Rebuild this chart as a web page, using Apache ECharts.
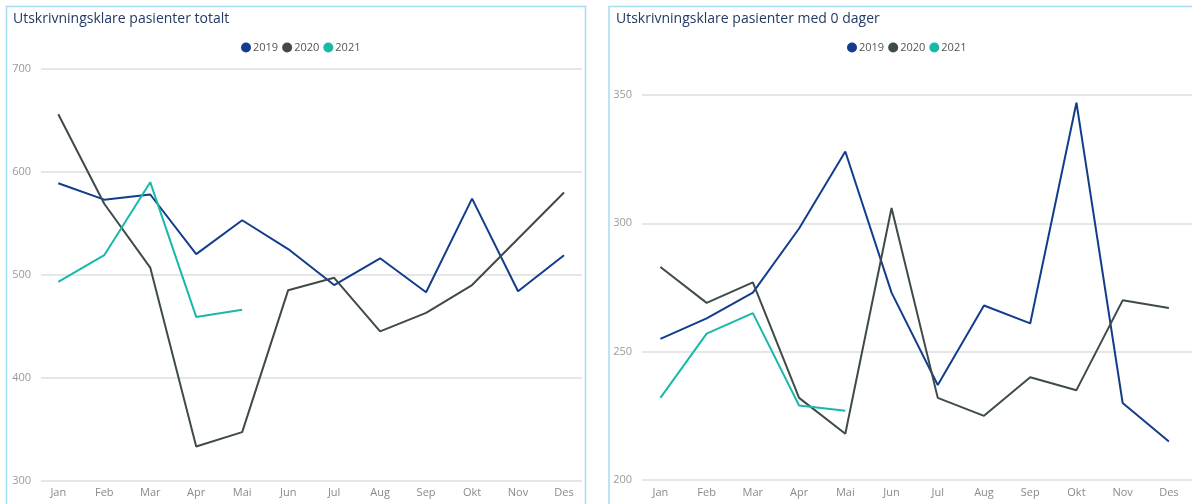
<!DOCTYPE html>
<html><head><meta charset="utf-8">
<script src="https://cdn.jsdelivr.net/npm/echarts@6/dist/echarts.min.js"></script>
<style>html,body{margin:0;padding:0;background:#fff}#c{width:1192px;height:504px}</style>
</head><body><div id="c"></div>
<script>
const months = ['Jan','Feb','Mar','Apr','Mai','Jun','Jul','Aug','Sep','Okt','Nov','Des'];
const years = ['2019','2020','2021'];
const colors = ['#123d8c','#3f4a4a','#17b9aa'];

const totalt2019 = [589, 573, 578, 520, 553, 525, 490, 516, 483, 574, 484, 519];
const totalt2020 = [656, 569, 507, 333, 347, 485, 497, 445, 463, 490, 535, 580];
const totalt2021 = [493, 519, 590, 459, 466];

const null2019 = [255, 263, 273, 298, 328, 273, 237, 268, 261, 347, 230, 215];
const null2020 = [283, 269, 277, 232, 218, 306, 232, 225, 240, 235, 270, 267];
const null2021 = [232, 257, 265, 229, 227];

const leftTicks = {min: 300, max: 700, interval: 100};
const rightTicks = {min: 200, max: 350, interval: 50};

const FONT = '"Segoe UI","Open Sans","Noto Sans",sans-serif';
const chart = echarts.init(document.getElementById('c'), null, {renderer: 'canvas'});

function lineSeries(name, data, idx, color) {
  return {name, type: 'line', data, xAxisIndex: idx, yAxisIndex: idx,
    symbol: 'none', showSymbol: false, smooth: false,
    lineStyle: {width: 2, color}, itemStyle: {color}, animation: false};
}

const labelY = {color: '#9a9a9a', fontSize: 11, fontFamily: FONT, margin: 10};
chart.setOption({
  animation: false,
  graphic: [
    {type: 'rect', shape: {x: 6.5, y: 6.5, width: 579, height: 520}, style: {fill: 'none', stroke: '#a6dcef', lineWidth: 1.5}},
    {type: 'rect', shape: {x: 609, y: 6.5, width: 620, height: 520}, style: {fill: 'none', stroke: '#a6dcef', lineWidth: 1.5}}
  ],
  title: [
    {text: 'Utskrivningsklare pasienter totalt', left: 13, top: 12, padding: 0,
     textStyle: {fontSize: 14, fontWeight: 'normal', color: '#233a63', fontFamily: FONT}},
    {text: 'Utskrivningsklare pasienter med 0 dager', left: 616, top: 12, padding: 0,
     textStyle: {fontSize: 14, fontWeight: 'normal', color: '#233a63', fontFamily: FONT}}
  ],
  legend: [
    {data: years, left: 236, top: 37, icon: 'circle', itemWidth: 10, itemHeight: 10, itemGap: 4,
     textStyle: {fontSize: 11, color: '#555', fontFamily: FONT, padding: [0,0,0,-3]}},
    {data: years, left: 842, top: 37, icon: 'circle', itemWidth: 10, itemHeight: 10, itemGap: 4,
     textStyle: {fontSize: 11, color: '#555', fontFamily: FONT, padding: [0,0,0,-3]}}
  ],
  grid: [
    {left: 35.3, width: 551.7, top: 69, height: 411.5, containLabel: false},
    {left: 41, width: 541, top: 69, height: 411.5, containLabel: false},
    {left: 637.3, width: 560.7, top: 95, height: 385, containLabel: false},
    {left: 642, width: 560, top: 95, height: 385, containLabel: false}
  ],
  xAxis: [
    {type: 'category', gridIndex: 0, data: months, boundaryGap: true,
     axisLine: {show: false}, axisTick: {show: false},
     axisLabel: {color: '#8a8a8a', fontSize: 11, fontFamily: FONT, margin: 7, interval: 0}},
    {type: 'category', gridIndex: 1, data: months, show: false},
    {type: 'category', gridIndex: 2, data: months, boundaryGap: true,
     axisLine: {show: false}, axisTick: {show: false},
     axisLabel: {color: '#8a8a8a', fontSize: 11, fontFamily: FONT, margin: 7, interval: 0}},
    {type: 'category', gridIndex: 3, data: months, show: false}
  ],
  yAxis: [
    {type: 'value', gridIndex: 0, min: leftTicks.min, max: leftTicks.max, interval: leftTicks.interval,
     axisLabel: {show: false}, splitLine: {show: false}, axisLine: {show: false}, axisTick: {show: false}},
    {type: 'value', gridIndex: 1, min: leftTicks.min, max: leftTicks.max, interval: leftTicks.interval,
     axisLabel: labelY, splitLine: {show: true, lineStyle: {color: '#e6e6e6', width: 2}},
     axisLine: {show: false}, axisTick: {show: false}},
    {type: 'value', gridIndex: 2, min: rightTicks.min, max: rightTicks.max, interval: rightTicks.interval,
     axisLabel: {show: false}, splitLine: {show: false}, axisLine: {show: false}, axisTick: {show: false}},
    {type: 'value', gridIndex: 3, min: rightTicks.min, max: rightTicks.max, interval: rightTicks.interval,
     axisLabel: labelY, splitLine: {show: true, lineStyle: {color: '#e6e6e6', width: 2}},
     axisLine: {show: false}, axisTick: {show: false}}
  ],
  series: [
    lineSeries('2019', totalt2019, 0, colors[0]),
    lineSeries('2020', totalt2020, 0, colors[1]),
    lineSeries('2021', totalt2021, 0, colors[2]),
    lineSeries('2019', null2019, 2, colors[0]),
    lineSeries('2020', null2020, 2, colors[1]),
    lineSeries('2021', null2021, 2, colors[2])
  ]
});
</script></body></html>
